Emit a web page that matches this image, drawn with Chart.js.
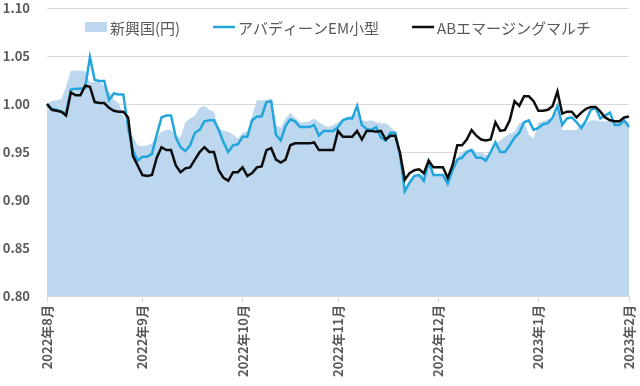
<!DOCTYPE html>
<html>
<head>
<meta charset="utf-8">
<script src="https://cdn.jsdelivr.net/npm/chart.js@4"></script>
<style>
  body { margin: 0; background: #fff; }
  #wrap { width: 640px; height: 386px; }
</style>
</head>
<body>
<div id="wrap"><canvas id="chart"></canvas></div>
<script>
const monthLabels = ["2022年8月", "2022年9月", "2022年10月", "2022年11月", "2022年12月", "2023年1月", "2023年2月"];
const monthStarts = [0, 20, 41, 61, 82, 103, 122];
const yTicks = [0.80, 0.85, 0.90, 0.95, 1.00, 1.05, 1.10];

// 新興国(円) - area
const emerging = [
  1.000, 1.003, 1.004, 1.005, 1.018, 1.035, 1.035, 1.035, 1.034, 1.023,
  1.023, 1.023, 1.019, 1.013, 1.005, 1.001, 0.988, 0.973, 0.966, 0.957,
  0.956, 0.957, 0.959, 0.966, 0.971, 0.973, 0.973, 0.968, 0.965, 0.981,
  0.985, 0.988, 0.996, 0.998, 0.994, 0.992, 0.975, 0.972, 0.971, 0.968,
  0.964, 0.970, 0.972, 0.988, 1.004, 1.004, 1.004, 1.006, 0.978, 0.975,
  0.985, 0.991, 0.986, 0.981, 0.981, 0.982, 0.985, 0.981, 0.978, 0.976,
  0.978, 0.981, 0.984, 0.987, 0.988, 0.991, 0.983, 0.982, 0.983, 0.981,
  0.980, 0.980, 0.976, 0.971, 0.952, 0.913, 0.919, 0.925, 0.925, 0.929,
  0.941, 0.926, 0.926, 0.926, 0.919, 0.933, 0.945, 0.950, 0.952, 0.954,
  0.950, 0.950, 0.947, 0.947, 0.959, 0.962, 0.966, 0.969, 0.971, 0.980,
  0.982, 0.968, 0.964, 0.981, 0.982, 0.984, 0.986, 0.992, 0.973, 0.973,
  0.973, 0.973, 0.979, 0.980, 0.983, 0.983, 0.982, 0.982, 0.982, 0.982,
  0.982, 0.982, 0.982
];

// アバディーンEM小型
const aberdeen = [
  1.000, 0.995, 0.994, 0.992, 0.990, 1.015, 1.016, 1.016, 1.017, 1.049,
  1.025, 1.024, 1.024, 1.004, 1.011, 1.010, 1.010, 0.975, 0.952, 0.941,
  0.945, 0.945, 0.948, 0.968, 0.986, 0.988, 0.988, 0.965, 0.955, 0.951,
  0.957, 0.970, 0.973, 0.982, 0.983, 0.983, 0.973, 0.960, 0.950, 0.957,
  0.958, 0.966, 0.966, 0.983, 0.987, 0.987, 1.002, 1.003, 0.968, 0.962,
  0.977, 0.984, 0.982, 0.976, 0.976, 0.976, 0.978, 0.967, 0.972, 0.972,
  0.972, 0.976, 0.983, 0.985, 0.985, 0.998, 0.978, 0.974, 0.973, 0.976,
  0.965, 0.962, 0.970, 0.970, 0.947, 0.909, 0.918, 0.925, 0.926, 0.920,
  0.940, 0.926, 0.926, 0.926, 0.917, 0.931, 0.942, 0.944, 0.950, 0.952,
  0.944, 0.944, 0.941, 0.950, 0.960, 0.950, 0.950, 0.957, 0.965, 0.970,
  0.981, 0.983, 0.973, 0.975, 0.979, 0.980, 0.986, 0.998, 0.978, 0.985,
  0.986, 0.981, 0.975, 0.983, 0.994, 0.996, 0.985, 0.988, 0.991, 0.978,
  0.978, 0.983, 0.976
];

// ABエマージングマルチ
const abMulti = [
  1.000, 0.994, 0.993, 0.992, 0.988, 1.012, 1.009, 1.009, 1.019, 1.018,
  1.002, 1.001, 1.001, 0.996, 0.993, 0.992, 0.992, 0.986, 0.946, 0.936,
  0.926, 0.925, 0.926, 0.944, 0.955, 0.952, 0.952, 0.936, 0.929, 0.933,
  0.934, 0.942, 0.950, 0.955, 0.950, 0.950, 0.931, 0.923, 0.920, 0.929,
  0.929, 0.934, 0.925, 0.928, 0.934, 0.935, 0.952, 0.954, 0.942, 0.939,
  0.942, 0.957, 0.959, 0.959, 0.959, 0.959, 0.960, 0.952, 0.952, 0.952,
  0.952, 0.972, 0.966, 0.966, 0.966, 0.972, 0.963, 0.972, 0.972, 0.971,
  0.972, 0.963, 0.967, 0.967, 0.949, 0.921, 0.928, 0.931, 0.932, 0.928,
  0.941, 0.934, 0.934, 0.934, 0.923, 0.936, 0.957, 0.957, 0.963, 0.973,
  0.967, 0.963, 0.962, 0.963, 0.981, 0.972, 0.973, 0.983, 1.003, 0.998,
  1.008, 1.008, 1.003, 0.993, 0.993, 0.994, 0.998, 1.013, 0.990, 0.992,
  0.992, 0.986, 0.991, 0.995, 0.997, 0.997, 0.992, 0.986, 0.983, 0.982,
  0.982, 0.986, 0.987
];

const seriesNames = ["新興国(円)", "アバディーンEM小型", "ABエマージングマルチ"];
const seriesColors = ["#bdd7ee", "#22a6dc", "#0d0d0d"];

const textColor = "#595959";
const gridColor = "#d9d9d9";
const fontFamily = "'Noto Sans CJK JP', sans-serif";

// x positions are just the point index; month labels sit at monthStarts
const points = emerging.map((_, i) => i);

// legend drawn inside the plot area, like the original
const insideLegend = {
  id: "insideLegend",
  afterDatasetsDraw(chart) {
    const { ctx, chartArea } = chart;
    const swatchW = 22, gap = 3, itemGap = 33;
    ctx.save();
    ctx.font = "15px " + fontFamily;
    ctx.textBaseline = "middle";
    const widths = seriesNames.map(n => swatchW + gap + ctx.measureText(n).width);
    const total = widths.reduce((a, b) => a + b, 0) + itemGap * (widths.length - 1);
    let x = (chartArea.left + chartArea.right) / 2 - total / 2;
    const y = chartArea.top + 19;
    seriesNames.forEach((name, i) => {
      if (i === 0) {
        ctx.fillStyle = seriesColors[0];
        ctx.fillRect(x, y - 5, swatchW, 10);
      } else {
        ctx.strokeStyle = seriesColors[i];
        ctx.lineWidth = 2.5;
        ctx.beginPath();
        ctx.moveTo(x, y);
        ctx.lineTo(x + swatchW, y);
        ctx.stroke();
      }
      ctx.fillStyle = textColor;
      ctx.fillText(name, x + swatchW + gap, y + 1);
      x += widths[i] + itemGap;
    });
    ctx.restore();
  }
};

new Chart(document.getElementById("chart"), {
  type: "line",
  data: {
    labels: points,
    datasets: [
      {
        label: seriesNames[0],
        data: emerging,
        backgroundColor: seriesColors[0],
        borderWidth: 0,
        fill: "start",
        pointRadius: 0,
        order: 3
      },
      {
        label: seriesNames[1],
        data: aberdeen,
        borderColor: seriesColors[1],
        borderWidth: 2.5,
        fill: false,
        pointRadius: 0,
        order: 2
      },
      {
        label: seriesNames[2],
        data: abMulti,
        borderColor: seriesColors[2],
        borderWidth: 2.5,
        fill: false,
        pointRadius: 0,
        order: 1
      }
    ]
  },
  options: {
    responsive: true,
    maintainAspectRatio: false,
    animation: false,
    layout: { padding: { top: 8, right: 11, left: 0, bottom: 0 } },
    plugins: {
      legend: { display: false },
      tooltip: { enabled: false }
    },
    scales: {
      x: {
        type: "category",
        offset: false,
        grid: { drawOnChartArea: false, drawTicks: true, tickLength: 6, color: gridColor },
        border: { display: false },
        ticks: {
          autoSkip: false,
          minRotation: 90,
          maxRotation: 90,
          padding: 3,
          color: textColor,
          font: { family: fontFamily, size: 13, weight: "bold" },
          callback: (v, i) => {
            const k = monthStarts.indexOf(i);
            return k >= 0 ? monthLabels[k] : null;
          }
        },
        afterFit: s => {
          s.height = 90;
          s.paddingLeft = 0;
          s.paddingRight = 0;
        }
      },
      y: {
        min: yTicks[0],
        max: yTicks[yTicks.length - 1],
        grid: { color: gridColor, drawTicks: false },
        border: { display: false },
        ticks: {
          stepSize: 0.05,
          padding: 17,
          color: textColor,
          font: { family: fontFamily, size: 13, weight: "bold" },
          callback: v => v.toFixed(2)
        },
        afterFit: s => {
          s.width = 47;
          s.paddingTop = 0;
          s.paddingBottom = 0;
        }
      }
    }
  },
  plugins: [insideLegend]
});
</script>
</body>
</html>
